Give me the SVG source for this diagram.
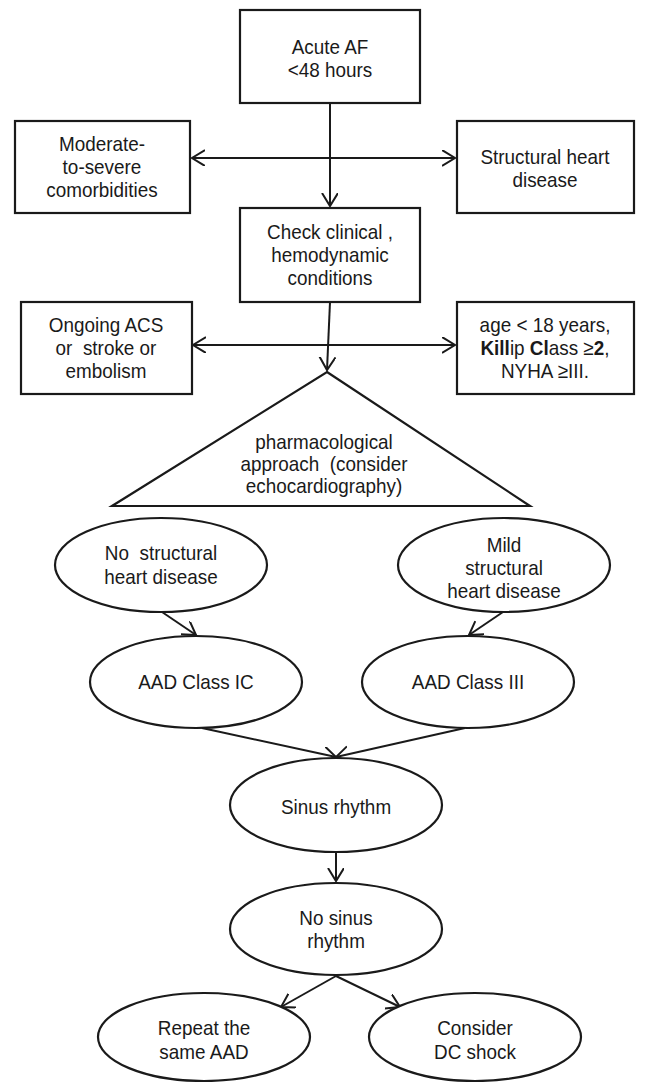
<svg xmlns="http://www.w3.org/2000/svg" width="645" height="1082" viewBox="0 0 645 1082">
<style>
.box{fill:#fff;stroke:#1a1a1a;stroke-width:2.2}
.t{font-family:"Liberation Sans",Arial,sans-serif;font-size:21px;fill:#1a1a1a;text-anchor:middle}
.b{font-weight:bold}
.c{stroke:#1a1a1a;stroke-width:2;fill:none}
</style>
<defs>
<marker id="ah" markerUnits="userSpaceOnUse" markerWidth="16" markerHeight="18" refX="13" refY="8" orient="auto">
<path d="M0,0 L13,8 L0,16" fill="none" stroke="#1a1a1a" stroke-width="2"/>
</marker>
</defs>
<rect width="645" height="1082" fill="#fff"/>
<g id="connectors">
<line class="c" x1="330" y1="103" x2="330" y2="206" marker-end="url(#ah)"/>
<line class="c" x1="330" y1="158" x2="192" y2="158" marker-end="url(#ah)"/>
<line class="c" x1="330" y1="158" x2="455" y2="158" marker-end="url(#ah)"/>
<line class="c" x1="330" y1="302" x2="327" y2="370" marker-end="url(#ah)"/>
<line class="c" x1="328" y1="345" x2="193" y2="345" marker-end="url(#ah)"/>
<line class="c" x1="328" y1="345" x2="455" y2="345" marker-end="url(#ah)"/>
<line class="c" x1="162" y1="612" x2="196" y2="635" marker-end="url(#ah)"/>
<line class="c" x1="503" y1="612" x2="469" y2="635" marker-end="url(#ah)"/>
<line class="c" x1="202" y1="728" x2="336" y2="757" marker-end="url(#ah)"/>
<line class="c" x1="465" y1="728" x2="336" y2="757" marker-end="url(#ah)"/>
<line class="c" x1="336" y1="852" x2="336" y2="881" marker-end="url(#ah)"/>
<line class="c" x1="336" y1="976" x2="281" y2="1007" marker-end="url(#ah)"/>
<line class="c" x1="336" y1="976" x2="400" y2="1007" marker-end="url(#ah)"/>
</g>
<g id="n1"><rect class="box" x="240" y="10" width="180" height="93"/>
<text class="t" transform="matrix(0.9 0 0 1 330 0)" y="54">Acute AF</text><text class="t" transform="matrix(0.9 0 0 1 330 0)" y="77">&lt;48 hours</text></g>
<g id="n2"><rect class="box" x="15" y="121" width="175" height="92"/>
<text class="t" transform="matrix(0.9 0 0 1 102 0)" y="151">Moderate-</text><text class="t" transform="matrix(0.9 0 0 1 102 0)" y="174">to-severe</text><text class="t" transform="matrix(0.9 0 0 1 102 0)" y="197">comorbidities</text></g>
<g id="n3"><rect class="box" x="457" y="121" width="177" height="92"/>
<text class="t" transform="matrix(0.9 0 0 1 545 0)" y="164">Structural heart</text><text class="t" transform="matrix(0.9 0 0 1 545 0)" y="187">disease</text></g>
<g id="n4"><rect class="box" x="240" y="208" width="180" height="94"/>
<text class="t" transform="matrix(0.9 0 0 1 330 0)" y="239">Check clinical ,</text><text class="t" transform="matrix(0.9 0 0 1 330 0)" y="262">hemodynamic</text><text class="t" transform="matrix(0.9 0 0 1 330 0)" y="285">conditions</text></g>
<g id="n5"><rect class="box" x="21" y="302" width="171" height="92"/>
<text class="t" transform="matrix(0.9 0 0 1 106 0)" y="332">Ongoing ACS</text><text class="t" transform="matrix(0.9 0 0 1 106 0)" y="355" xml:space="preserve">or  stroke or</text><text class="t" transform="matrix(0.9 0 0 1 106 0)" y="378">embolism</text></g>
<g id="n6"><rect class="box" x="457" y="302" width="177" height="92"/>
<text class="t" transform="matrix(0.9 0 0 1 545 0)" y="332">age &lt; 18 years,</text>
<text class="t" transform="matrix(0.9 0 0 1 545 0)" y="355"><tspan class="b">Kill</tspan>ip <tspan class="b">Cl</tspan>ass ≥<tspan class="b">2</tspan>,</text>
<text class="t" transform="matrix(0.9 0 0 1 545 0)" y="378">NYHA ≥III.</text></g>
<g id="n7"><polygon class="box" points="327,372 530,506 112,506"/>
<text class="t" transform="matrix(0.9 0 0 1 324 0)" y="449">pharmacological</text><text class="t" transform="matrix(0.9 0 0 1 324 0)" y="471" xml:space="preserve">approach  (consider</text><text class="t" transform="matrix(0.9 0 0 1 324 0)" y="493">echocardiography)</text></g>
<g id="n8"><ellipse class="box" cx="161" cy="565" rx="106" ry="47"/>
<text class="t" transform="matrix(0.9 0 0 1 161 0)" y="560" xml:space="preserve">No  structural</text><text class="t" transform="matrix(0.9 0 0 1 161 0)" y="584">heart disease</text></g>
<g id="n9"><ellipse class="box" cx="504" cy="565" rx="106" ry="47"/>
<text class="t" transform="matrix(0.9 0 0 1 504 0)" y="552">Mild</text><text class="t" transform="matrix(0.9 0 0 1 504 0)" y="575">structural</text><text class="t" transform="matrix(0.9 0 0 1 504 0)" y="598">heart disease</text></g>
<g id="n10"><ellipse class="box" cx="196" cy="682" rx="106" ry="46"/>
<text class="t" transform="matrix(0.9 0 0 1 196 0)" y="689">AAD Class IC</text></g>
<g id="n11"><ellipse class="box" cx="468" cy="682" rx="106" ry="46"/>
<text class="t" transform="matrix(0.9 0 0 1 468 0)" y="689">AAD Class III</text></g>
<g id="n12"><ellipse class="box" cx="336" cy="805" rx="106" ry="47"/>
<text class="t" transform="matrix(0.9 0 0 1 336 0)" y="814">Sinus rhythm</text></g>
<g id="n13"><ellipse class="box" cx="336" cy="929" rx="106" ry="46"/>
<text class="t" transform="matrix(0.9 0 0 1 336 0)" y="925">No sinus</text><text class="t" transform="matrix(0.9 0 0 1 336 0)" y="948">rhythm</text></g>
<g id="n14"><ellipse class="box" cx="204" cy="1037" rx="106" ry="44"/>
<text class="t" transform="matrix(0.9 0 0 1 204 0)" y="1035">Repeat the</text><text class="t" transform="matrix(0.9 0 0 1 204 0)" y="1059">same AAD</text></g>
<g id="n15"><ellipse class="box" cx="475" cy="1037" rx="106" ry="44"/>
<text class="t" transform="matrix(0.9 0 0 1 475 0)" y="1035">Consider</text><text class="t" transform="matrix(0.9 0 0 1 475 0)" y="1059">DC shock</text></g>
</svg>
